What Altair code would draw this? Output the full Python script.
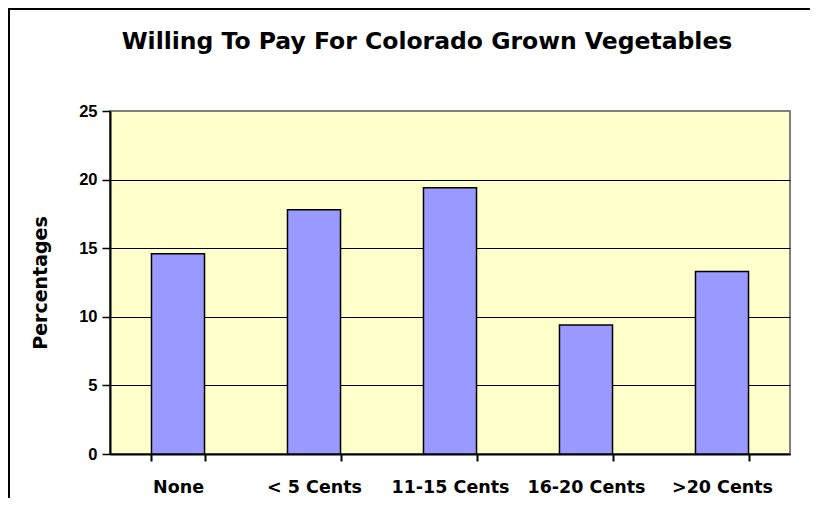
import altair as alt
import pandas as pd

# ---- data ----
categories = ["None", "< 5 Cents", "11-15 Cents", "16-20 Cents", ">20 Cents"]
percentages = [14.6, 17.8, 19.4, 9.4, 13.3]
y_ticks = [0, 5, 10, 15, 20, 25]
chart_title = "Willing To Pay For Colorado Grown Vegetables"
y_title = "Percentages"

FONT = "Liberation Sans"
WIDE = "DejaVu Sans"

df = pd.DataFrame({"category": categories, "pct": percentages})
one = pd.DataFrame({"a": [0]})

bars = alt.Chart(df).mark_bar(
    color="#9999FF", stroke="black", strokeWidth=1.5
).encode(
    x=alt.X(
        "category:N", sort=categories, title=None,
        scale=alt.Scale(paddingInner=0.61, paddingOuter=0.305),
        axis=alt.Axis(
            labelAngle=0, labelFont=WIDE, labelFontSize=17.5, labelFontWeight="bold",
            labelColor="black", tickBand="extent", tickSize=7, tickColor="black",
            tickWidth=2, domainColor="black", domainWidth=2, labelPadding=17,
            grid=False,
        ),
    ),
    y=alt.Y(
        "pct:Q", scale=alt.Scale(domain=[0, 25]), title=y_title,
        axis=alt.Axis(
            values=y_ticks, grid=True,
            gridColor=alt.condition("datum.value == 25", alt.value("#808080"), alt.value("black")),
            gridWidth=1,
            domainColor="black", domainWidth=2, tickColor="black", tickWidth=1.5,
            tickSize=8, labelPadding=5, labelFont=FONT, labelFontSize=16.5,
            labelFontWeight="bold", labelColor="black",
            titleFont=WIDE, titleFontSize=19, titleFontWeight="bold", titleColor="black",
            titleAngle=270, titleX=-70, titleY=171.5, titleAlign="center",
            titleBaseline="middle",
        ),
    ),
)

left_border = alt.Chart(one).mark_rule(color="black", strokeWidth=2).encode(
    x=alt.value(-101), y=alt.value(-102), y2=alt.value(420)
)
top_border = alt.Chart(one).mark_rule(color="black", strokeWidth=2).encode(
    x=alt.value(-102), x2=alt.value(720), y=alt.value(-102)
)
title = alt.Chart(one).mark_text(
    text=chart_title, font=WIDE, fontSize=23.5, fontWeight="bold",
    align="center", baseline="middle", color="black"
).encode(x=alt.value(317), y=alt.value(-69))

chart = alt.layer(bars, left_border, top_border, title).properties(
    width=680, height=343,
    autosize=alt.AutoSizeParams(type="none"),
    padding={"left": 102, "top": 103, "right": 20, "bottom": 44},
).configure_view(fill="#FFFFCC", stroke="#808080", strokeWidth=2)

chart.save("out.html", embed_options={"renderer": "svg", "actions": False})
